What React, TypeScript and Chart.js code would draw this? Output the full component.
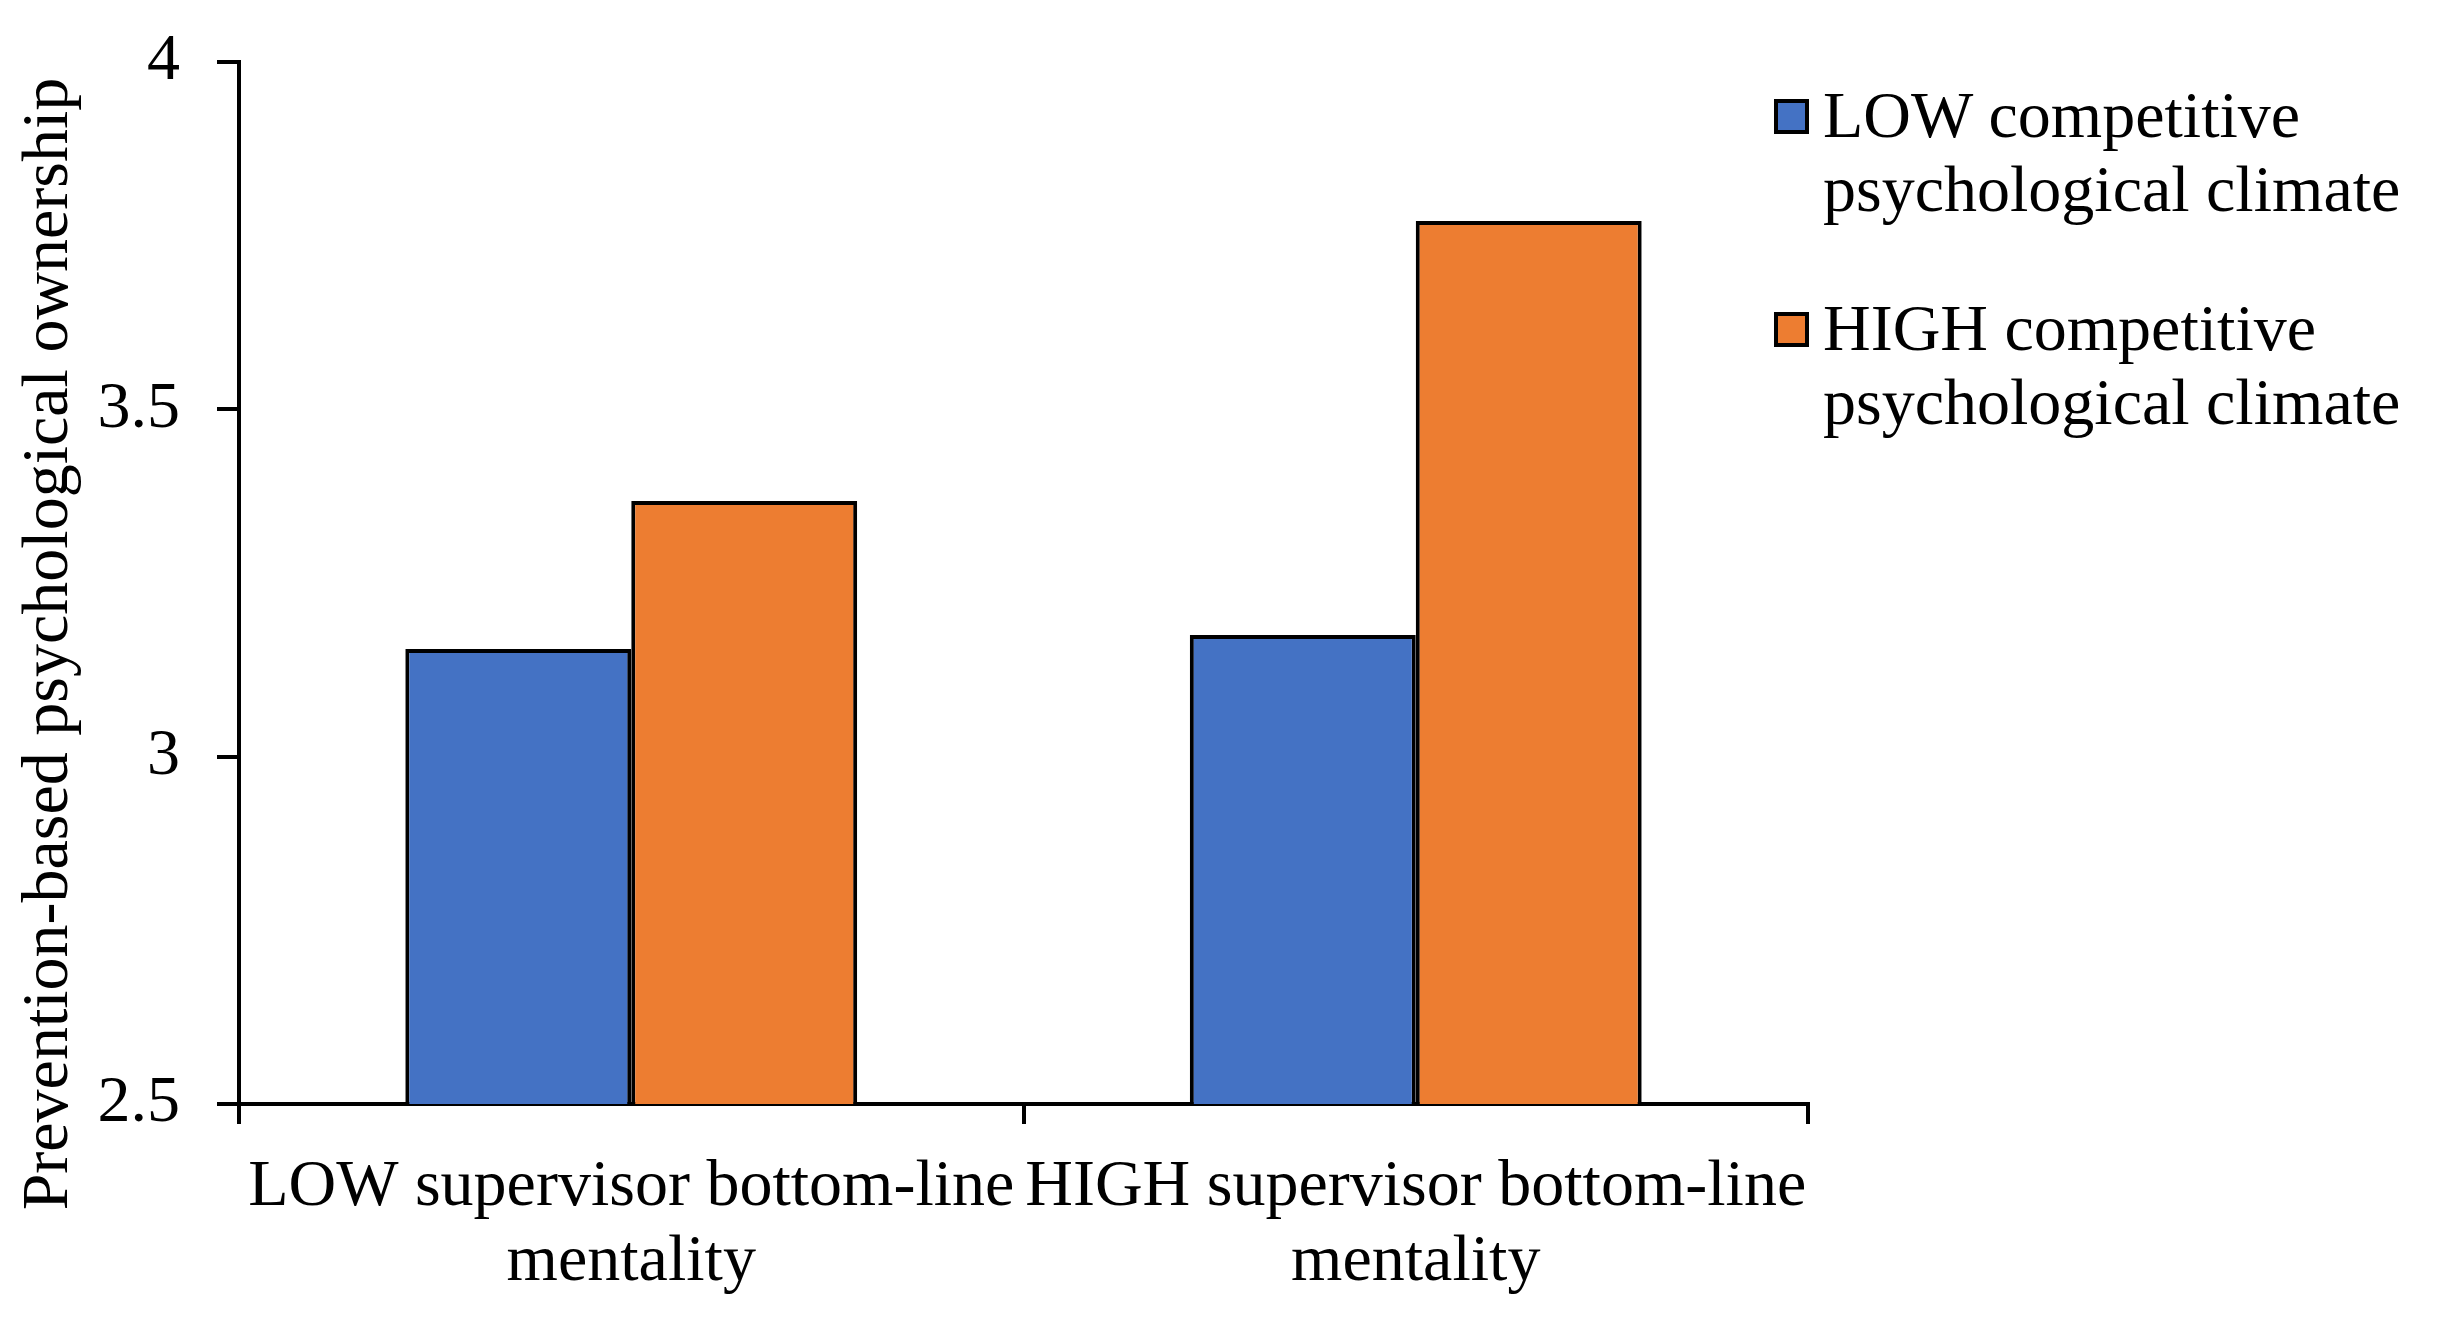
import React, { useEffect, useRef } from "react";
import { Chart, registerables } from "chart.js";

Chart.register(...registerables);

const CATEGORIES: string[][] = [
  ["LOW supervisor bottom-line", "mentality"],
  ["HIGH supervisor bottom-line", "mentality"],
];
const SERIES_NAMES: string[][] = [
  ["LOW competitive", "psychological climate"],
  ["HIGH competitive", "psychological climate"],
];
const LOW_CLIMATE: number[] = [3.155, 3.175];
const HIGH_CLIMATE: number[] = [3.368, 3.771];
const Y_MIN = 2.5;
const Y_MAX = 4;
const Y_STEP = 0.5;
const Y_TITLE = "Prevention-based psychological ownership";
const COLORS = ["#4472C4", "#ED7D31"];

const FONT = '"Liberation Serif", "Times New Roman", serif';

const yTitlePlugin = {
  id: "yTitleCustom",
  afterDraw(chart: any) {
    const ctx = chart.ctx;
    ctx.save();
    ctx.translate(50, 644);
    ctx.rotate(-Math.PI / 2);
    ctx.font = `66px ${FONT}`;
    ctx.fillStyle = "#000";
    ctx.textAlign = "center";
    ctx.textBaseline = "middle";
    ctx.fillText(Y_TITLE, 0, 0);
    ctx.restore();
  },
};

export default function App() {
  const canvasRef = useRef<HTMLCanvasElement | null>(null);

  useEffect(() => {
    if (!canvasRef.current) return;
    const chart = new Chart(canvasRef.current, {
      type: "bar",
      data: {
        labels: CATEGORIES,
        datasets: [
          {
            label: SERIES_NAMES[0].join(" "),
            data: LOW_CLIMATE,
            backgroundColor: COLORS[0],
            borderColor: "#000",
            borderWidth: 4,
          },
          {
            label: SERIES_NAMES[1].join(" "),
            data: HIGH_CLIMATE,
            backgroundColor: COLORS[1],
            borderColor: "#000",
            borderWidth: 4,
          },
        ],
      },
      options: {
        animation: false,
        responsive: true,
        maintainAspectRatio: false,
        devicePixelRatio: 1,
        layout: { padding: { left: 0, right: 640, top: 62, bottom: 0 } },
        datasets: { bar: { categoryPercentage: 0.576, barPercentage: 1 } },
        plugins: {
          legend: { display: false },
          tooltip: { enabled: false },
          title: { display: false },
        },
        scales: {
          x: {
            offset: true,
            grid: {
              offset: true,
              drawOnChartArea: false,
              drawTicks: true,
              tickLength: 20,
              color: "#000",
              lineWidth: 4,
            },
            border: { display: true, color: "#000", width: 4 },
            ticks: {
              color: "#000",
              font: { family: FONT, size: 66, lineHeight: 1.136 },
              padding: 26,
              maxRotation: 0,
              minRotation: 0,
              autoSkip: false,
            },
            afterFit(scale: any) {
              scale.height = 224;
              scale.paddingLeft = 0;
              scale.paddingRight = 0;
            },
          },
          y: {
            min: Y_MIN,
            max: Y_MAX,
            grid: {
              drawOnChartArea: false,
              drawTicks: true,
              tickLength: 22,
              color: "#000",
              lineWidth: 4,
            },
            border: { display: true, color: "#000", width: 4 },
            ticks: {
              stepSize: Y_STEP,
              color: "#000",
              font: { family: FONT, size: 66 },
              padding: 37,
              callback: (v: any) => String(Number(v)),
            },
            title: { display: false },
            afterFit(scale: any) {
              scale.width = 239;
              scale.paddingTop = 0;
              scale.paddingBottom = 0;
            },
          },
        },
      },
      plugins: [yTitlePlugin],
    });
    return () => chart.destroy();
  }, []);

  const legendTop = [78, 291];
  return (
    <div
      style={{
        position: "fixed",
        left: 0,
        top: 0,
        width: 2448,
        height: 1328,
        background: "#fff",
      }}
    >
      <canvas ref={canvasRef} />
      {SERIES_NAMES.map((lines, i) => (
        <div
          key={i}
          style={{
            position: "absolute",
            left: 1774,
            top: legendTop[i],
            display: "flex",
            alignItems: "flex-start",
            fontFamily: FONT,
            fontSize: 66,
            lineHeight: "74px",
            color: "#000",
            whiteSpace: "nowrap",
          }}
        >
          <div
            style={{
              width: 27,
              height: 27,
              marginTop: 21,
              background: COLORS[i],
              border: "4px solid #000",
              flex: "0 0 auto",
            }}
          />
          <div style={{ marginLeft: 14 }}>
            {lines.map((l, j) => (
              <div key={j}>{l}</div>
            ))}
          </div>
        </div>
      ))}
    </div>
  );
}
